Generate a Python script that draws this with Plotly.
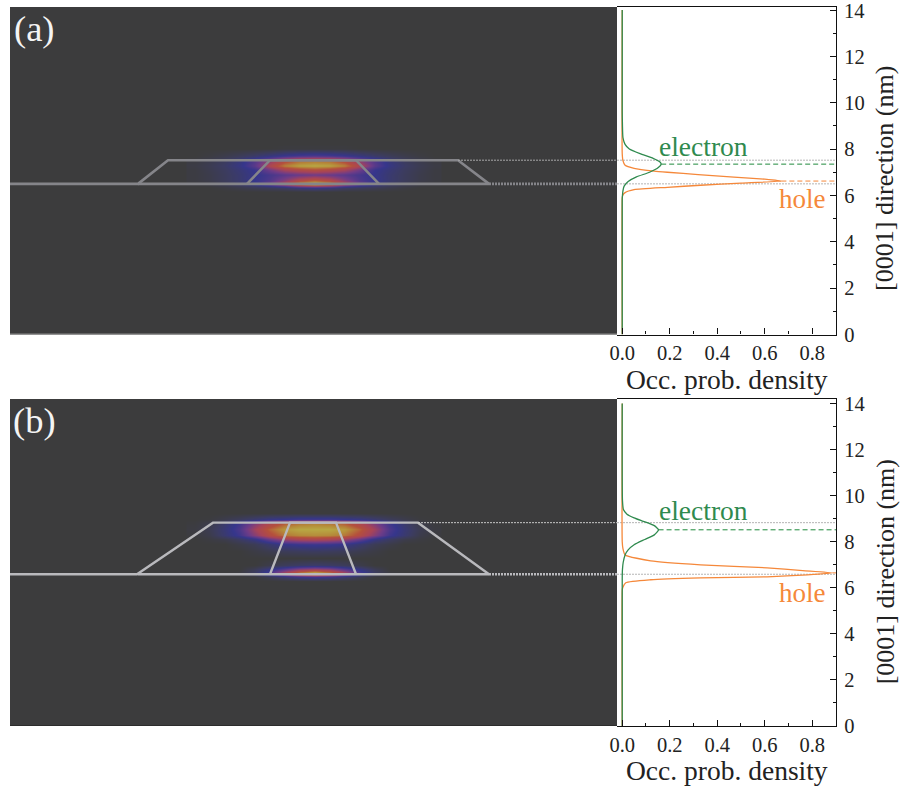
import plotly.graph_objects as go

W, H = 902, 790
SERIF = "Liberation Serif"

# ---- map data (lateral position, growth position, normalised density) ----
map_x = [-12, -10.5, -9, -7.5, -6, -4.5, -3, -1.5, 0, 1.5, 3, 4.5, 6, 7.5, 9, 10.5, 12]
map_y_a = [6.15, 6.35, 6.5, 6.7, 6.9, 7.1, 7.3, 7.5, 7.7, 8.0]
map_z_a = [
    [0, 0, 0, 0, 0, 0, 0, 0, 0, 0, 0, 0, 0, 0, 0, 0, 0],
    [0, 0, 0.02, 0.05, 0.08, 0.1, 0.13, 0.2, 0.24, 0.2, 0.13, 0.1, 0.08, 0.05, 0.02, 0, 0],
    [0.01, 0.03, 0.08, 0.14, 0.24, 0.4, 0.62, 0.88, 1.0, 0.88, 0.62, 0.4, 0.24, 0.14, 0.08, 0.03, 0.01],
    [0.02, 0.05, 0.1, 0.16, 0.25, 0.32, 0.46, 0.62, 0.7, 0.62, 0.46, 0.32, 0.25, 0.16, 0.1, 0.05, 0.02],
    [0.02, 0.05, 0.1, 0.16, 0.24, 0.3, 0.36, 0.4, 0.42, 0.4, 0.36, 0.3, 0.24, 0.16, 0.1, 0.05, 0.02],
    [0.02, 0.06, 0.11, 0.18, 0.26, 0.42, 0.58, 0.66, 0.7, 0.66, 0.58, 0.42, 0.26, 0.18, 0.11, 0.06, 0.02],
    [0.03, 0.07, 0.13, 0.22, 0.36, 0.62, 0.82, 0.9, 0.92, 0.9, 0.82, 0.62, 0.36, 0.22, 0.13, 0.07, 0.03],
    [0.02, 0.06, 0.11, 0.2, 0.34, 0.5, 0.68, 0.78, 0.8, 0.78, 0.68, 0.5, 0.34, 0.2, 0.11, 0.06, 0.02],
    [0, 0.02, 0.05, 0.09, 0.14, 0.2, 0.26, 0.3, 0.32, 0.3, 0.26, 0.2, 0.14, 0.09, 0.05, 0.02, 0],
    [0, 0, 0, 0, 0, 0, 0.01, 0.01, 0.01, 0.01, 0.01, 0, 0, 0, 0, 0, 0],
]
map_y_b = [6.3, 6.45, 6.62, 6.8, 7.0, 7.3, 7.6, 7.9, 8.1, 8.3, 8.55, 8.8, 9.0, 9.25]
map_z_b = [
    [0, 0, 0, 0, 0, 0, 0, 0, 0, 0, 0, 0, 0, 0, 0, 0, 0],
    [0, 0, 0, 0, 0, 0.06, 0.14, 0.22, 0.26, 0.22, 0.14, 0.06, 0, 0, 0, 0, 0],
    [0, 0, 0, 0.02, 0.12, 0.32, 0.6, 0.85, 1.0, 0.85, 0.6, 0.32, 0.12, 0.02, 0, 0, 0],
    [0, 0, 0, 0, 0.08, 0.22, 0.36, 0.5, 0.55, 0.5, 0.36, 0.22, 0.08, 0, 0, 0, 0],
    [0, 0, 0, 0, 0, 0.05, 0.1, 0.13, 0.15, 0.13, 0.1, 0.05, 0, 0, 0, 0, 0],
    [0, 0, 0, 0, 0, 0, 0, 0, 0, 0, 0, 0, 0, 0, 0, 0, 0],
    [0, 0, 0, 0, 0.03, 0.06, 0.09, 0.1, 0.11, 0.1, 0.09, 0.06, 0.03, 0, 0, 0, 0],
    [0, 0, 0, 0.04, 0.08, 0.16, 0.24, 0.27, 0.28, 0.27, 0.24, 0.16, 0.08, 0.04, 0, 0, 0],
    [0, 0.02, 0.05, 0.12, 0.22, 0.4, 0.54, 0.6, 0.62, 0.6, 0.54, 0.4, 0.22, 0.12, 0.05, 0.02, 0],
    [0.01, 0.05, 0.16, 0.28, 0.48, 0.68, 0.8, 0.84, 0.85, 0.84, 0.8, 0.68, 0.48, 0.28, 0.16, 0.05, 0.01],
    [0.02, 0.07, 0.18, 0.32, 0.56, 0.76, 0.88, 0.92, 0.92, 0.92, 0.88, 0.76, 0.56, 0.32, 0.18, 0.07, 0.02],
    [0.01, 0.05, 0.15, 0.28, 0.46, 0.62, 0.74, 0.8, 0.82, 0.8, 0.74, 0.62, 0.46, 0.28, 0.15, 0.05, 0.01],
    [0, 0.01, 0.05, 0.1, 0.16, 0.22, 0.25, 0.28, 0.28, 0.28, 0.25, 0.22, 0.16, 0.1, 0.05, 0.01, 0],
    [0, 0, 0, 0, 0, 0, 0, 0, 0, 0, 0, 0, 0, 0, 0, 0, 0],
]

# ---- quantum-dot outlines (lateral, growth) ----
base_a, top_a = 6.5, 7.52
base_b, top_b = 6.59, 8.83
outer_a_x = [-30.4, -17.6, -14.6, 14.4, 17.5]
outer_a_y = [base_a, base_a, top_a, top_a, base_a]
inner_a_x = [-6.7, -4.4, 4.2, 6.5]
inner_a_y = [base_a, top_a, top_a, base_a]
outer_b_x = [-30.4, -17.7, -10.1, 10.4, 17.5]
outer_b_y = [base_b, base_b, top_b, top_b, base_b]
inner_b_x = [-4.4, -2.4, 2.2, 4.2]
inner_b_y = [base_b, top_b, top_b, base_b]
base_span = [-17.6, 17.5]

# ---- occupation-probability profiles ----
elec_y_a = [0, 5.8, 6.0, 6.2, 6.4, 6.6, 6.8, 7.0, 7.2, 7.35, 7.45, 7.6, 7.8, 8.0, 8.2, 8.5, 9.0, 9.6, 14]
elec_x_a = [0, 0, 0.001, 0.003, 0.008, 0.025, 0.06, 0.115, 0.152, 0.164, 0.158, 0.13, 0.075, 0.03, 0.012, 0.003, 0.001, 0, 0]
hole_y_a = [0, 5.9, 6.0, 6.12, 6.25, 6.35, 6.44, 6.53, 6.62, 6.7, 6.79, 6.9, 7.0, 7.05, 7.17, 7.3, 7.5, 7.8, 14]
hole_x_a = [0, 0, 0.002, 0.012, 0.05, 0.19, 0.33, 0.5, 0.67, 0.6, 0.47, 0.32, 0.19, 0.135, 0.05, 0.012, 0.003, 0, 0]
elec_y_b = [0, 6.4, 6.8, 7.1, 7.43, 7.65, 7.87, 8.1, 8.3, 8.52, 8.7, 8.9, 9.04, 9.2, 9.4, 9.8, 14]
elec_x_b = [0, 0, 0.001, 0.004, 0.012, 0.025, 0.05, 0.095, 0.135, 0.153, 0.135, 0.085, 0.05, 0.02, 0.005, 0.001, 0]
hole_y_b = [0, 5.9, 6.0, 6.22, 6.35, 6.43, 6.48, 6.56, 6.65, 6.75, 6.87, 7.0, 7.17, 7.43, 7.7, 8.0, 14]
hole_x_b = [0, 0, 0.002, 0.015, 0.12, 0.33, 0.61, 0.78, 0.885, 0.76, 0.61, 0.33, 0.12, 0.012, 0.003, 0, 0]

peak_a = {"electron": (0.164, 7.35), "hole": (0.67, 6.62)}
peak_b = {"electron": (0.153, 8.52), "hole": (0.885, 6.65)}

# ---- axes ----
x_ticks = [0.0, 0.2, 0.4, 0.6, 0.8]
y_ticks = [0, 2, 4, 6, 8, 10, 12, 14]
x_range = [-0.022, 0.9]
y_range_a = [0, 14.13]
y_range_b = [0, 14.2]
map_range = [-30.4, 30.3]

GREEN = "#2f8a4e"
ORANGE = "#f5883a"
BG = "#3c3c3d"
TEXT = "#222222"
scale = [
    [0.0, BG], [0.12, "#3c3c62"], [0.25, "#36368c"], [0.42, "#6e3c88"],
    [0.58, "#a84458"], [0.72, "#b5503c"], [0.84, "#b58a3a"], [0.92, "#b8a844"],
    [1.0, "#ebe3a0"],
]


def dom_x(a, b):
    return [a / W, b / W]


def dom_y(top, bottom):
    return [1 - bottom / H, 1 - top / H]


fig = go.Figure()


def panel(idx, z_x, z_y, z, outer_x, outer_y, inner_x, inner_y, base, top, peaks,
          ex, ey, hx, hy, line_col, line_w, dot_col, bottom_col):
    xa_m, ya_m = f"x{idx}", f"y{idx}"
    xa_p, ya_p = f"x{idx + 1}", f"y{idx + 1}"
    fig.add_trace(go.Heatmap(x=z_x, y=z_y, z=z, zmin=0, zmax=1, zsmooth="best",
                             colorscale=scale, showscale=False, xaxis=xa_m, yaxis=ya_m))
    ln = dict(color=line_col, width=line_w)
    for xs, ys in ((outer_x, outer_y), (inner_x, inner_y), (base_span, [base, base])):
        fig.add_trace(go.Scatter(x=xs, y=ys, mode="lines", line=ln, xaxis=xa_m, yaxis=ya_m))
    # right-hand extension of the wetting layer and the top facet
    fig.add_trace(go.Scatter(x=[base_span[1], map_range[1]], y=[base, base], mode="lines",
                             line=dict(color=line_col, width=line_w, dash="2px,1px"),
                             xaxis=xa_m, yaxis=ya_m))
    fig.add_trace(go.Scatter(x=[outer_x[3], map_range[1]], y=[top, top], mode="lines",
                             line=dict(color=dot_col, width=1, dash="2px,1px"),
                             xaxis=xa_m, yaxis=ya_m))
    fig.add_trace(go.Scatter(x=map_range, y=[0, 0], mode="lines", cliponaxis=False,
                             line=dict(color=bottom_col, width=2), xaxis=xa_m, yaxis=ya_m))
    # guide lines in the profile panel
    for level in (base, top):
        fig.add_trace(go.Scatter(x=x_range, y=[level, level], mode="lines",
                                 line=dict(color="#b5b5b5", width=1, dash="2px,1px"),
                                 xaxis=xa_p, yaxis=ya_p))
    for name, col in (("electron", "#1f8a3c"), ("hole", ORANGE)):
        px, py = peaks[name]
        fig.add_trace(go.Scatter(x=[px, x_range[1]], y=[py, py], mode="lines",
                                 line=dict(color=col, width=1, dash="5px,3px"),
                                 xaxis=xa_p, yaxis=ya_p))
    fig.add_trace(go.Scatter(x=hx, y=hy, mode="lines",
                             line=dict(color=ORANGE, width=1.3, shape="spline", smoothing=0.5),
                             xaxis=xa_p, yaxis=ya_p))
    fig.add_trace(go.Scatter(x=ex, y=ey, mode="lines",
                             line=dict(color=GREEN, width=1.3, shape="spline", smoothing=0.5),
                             xaxis=xa_p, yaxis=ya_p))


panel(1, map_x, map_y_a, map_z_a, outer_a_x, outer_a_y, inner_a_x, inner_a_y, base_a, top_a,
      peak_a, elec_x_a, elec_y_a, hole_x_a, hole_y_a, "#85858a", 2.6, "#a8a8a8", "#8a8a8a")
panel(3, map_x, map_y_b, map_z_b, outer_b_x, outer_b_y, inner_b_x, inner_b_y, base_b, top_b,
      peak_b, elec_x_b, elec_y_b, hole_x_b, hole_y_b, "#b9b9bd", 2.4, "#c8c8c8", "#2c2c2c")


def map_axes(top, bottom, yr):
    return (dict(domain=dom_x(10, 617), range=map_range, visible=False, fixedrange=True,
                 automargin=False),
            dict(domain=dom_y(top, bottom), range=yr, visible=False, fixedrange=True,
                 automargin=False))


def prof_axes(top, bottom, yr, anchor_x, anchor_y, y_labels):
    tf = dict(family=SERIF, size=20.5, color=TEXT)
    xa = dict(domain=dom_x(617, 836), range=x_range, anchor=anchor_y, automargin=False,
              tickmode="array", tickvals=x_ticks, ticktext=[f"{v:.1f}" for v in x_ticks],
              ticks="inside", ticklen=6, tickwidth=1, tickcolor="#111111",
              tickfont=tf, showline=True, linecolor="#111111", linewidth=1.2, mirror=True,
              showgrid=False, zeroline=False,
              minor=dict(dtick=0.1, tick0=0, ticks="inside", ticklen=3, tickcolor="#111111",
                         showgrid=False))
    ya = dict(domain=dom_y(top, bottom), range=yr, anchor=anchor_x, side="right",
              automargin=False, ticklabelstandoff=3,
              tickmode="array", tickvals=y_ticks, ticktext=y_labels,
              ticks="inside", ticklen=6, tickwidth=1,
              tickcolor="#111111", tickfont=tf, showline=True, linecolor="#111111",
              linewidth=1.2, showgrid=False, zeroline=False,
              minor=dict(dtick=1, tick0=0, ticks="inside", ticklen=3, tickcolor="#111111",
                         showgrid=False))
    return xa, ya


# The top label of panel (a) sits too close to the page edge for a tick label,
# so it is drawn as an annotation at the same tick value.
labels_a = [str(v) for v in y_ticks[:-1]] + [""]
labels_b = [str(v) for v in y_ticks]

xm1, ym1 = map_axes(7, 334.5, y_range_a)
xp1, yp1 = prof_axes(7, 334.5, y_range_a, "x2", "y2", labels_a)
xm2, ym2 = map_axes(399, 726, y_range_b)
xp2, yp2 = prof_axes(399, 726, y_range_b, "x4", "y4", labels_b)


def label(text, x, y, xref, yref, color, size):
    return dict(text=text, x=x, y=y, xref=xref, yref=yref, showarrow=False,
                xanchor="center", yanchor="middle",
                font=dict(family=SERIF, size=size, color=color))


def x_title(xref, yref):
    return dict(text="Occ. prob. density", x=0.5, y=0, xref=xref, yref=yref,
                showarrow=False, xanchor="center", yanchor="top", yshift=-27,
                font=dict(family=SERIF, size=27.5, color=TEXT))


def y_title(yref, frac):
    return dict(text="[0001] direction (nm)", x=885 / W, y=frac, xref="paper", yref=yref,
                showarrow=False, xanchor="center", yanchor="middle", textangle=-90,
                font=dict(family=SERIF, size=26, color=TEXT))


fig.update_layout(
    width=W, height=H, autosize=False,
    margin=dict(l=0, r=0, t=0, b=0, autoexpand=False),
    paper_bgcolor="white", plot_bgcolor="white", showlegend=False,
    xaxis=xm1, yaxis=ym1, xaxis2=xp1, yaxis2=yp1,
    xaxis3=xm2, yaxis3=ym2, xaxis4=xp2, yaxis4=yp2,
    shapes=[
        dict(type="rect", xref="x domain", yref="y domain", x0=0, x1=1, y0=0, y1=1,
             fillcolor=BG, line_width=0, layer="below"),
        dict(type="rect", xref="x3 domain", yref="y3 domain", x0=0, x1=1, y0=0, y1=1,
             fillcolor=BG, line_width=0, layer="below"),
    ],
    annotations=[
        label("(a)", -27.95, 13.2, "x", "y", "#f4f4f4", 36.5),
        label("(b)", -27.95, 13.25, "x3", "y3", "#f4f4f4", 36.5),
        label("electron", 0.342, 8.1, "x2", "y2", GREEN, 27.5),
        label("hole", 0.76, 5.86, "x2", "y2", ORANGE, 27),
        label("electron", 0.342, 9.35, "x4", "y4", GREEN, 27.5),
        label("hole", 0.76, 5.78, "x4", "y4", ORANGE, 27),
        dict(text="14", x=1, y=14, xref="x2 domain", yref="y2", showarrow=False,
             xanchor="left", yanchor="middle", xshift=6, yshift=-1,
             font=dict(family=SERIF, size=20.5, color=TEXT)),
        x_title("x2 domain", "y2 domain"),
        x_title("x4 domain", "y4 domain"),
        y_title("y2 domain", 0.475),
        y_title("y4 domain", 0.47),
    ],
)

fig.write_html("out.html", config={"displayModeBar": False},
               post_script="document.body.style.margin='0';")
